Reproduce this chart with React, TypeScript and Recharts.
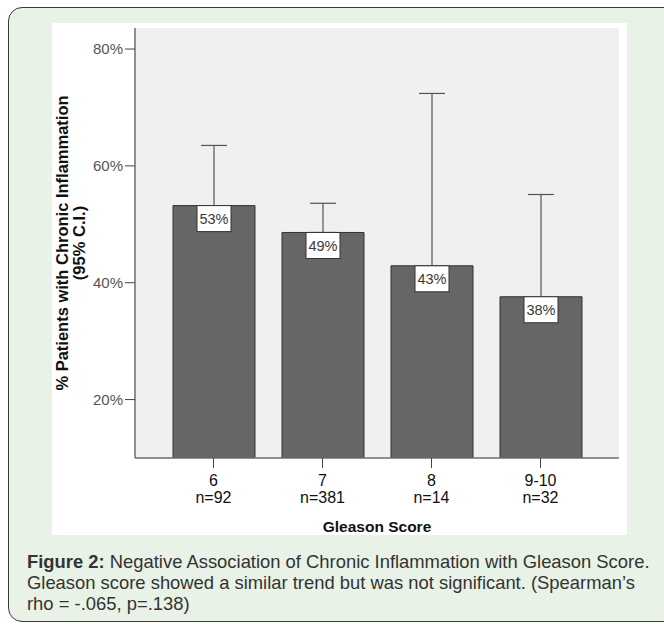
import React from "react";
import { BarChart, Bar, XAxis, YAxis, CartesianGrid, ErrorBar, LabelList } from "recharts";

// Gleason score groups and their sample sizes
const categories = ["6", "7", "8", "9-10"];
const sampleSizes = ["n=92", "n=381", "n=14", "n=32"];
// % patients with chronic inflammation, and upper bound of the 95% C.I.
const pctInflamed = [53.2, 48.6, 42.9, 37.6];
const ciUpper = [63.5, 53.6, 72.4, 55.1];
const yTicks = [20, 40, 60, 80];

const data = categories.map((c, i) => ({
  score: c,
  pct: pctInflamed[i],
  // only the upper whisker is visible above the bar
  err: [0, ciUpper[i] - pctInflamed[i]],
}));

const FONT = "'Liberation Sans', Arial, sans-serif";
const BORDER = "#6e6e6e";

const ScoreTick = (props: any) => {
  const { x, y, payload } = props;
  const idx = categories.indexOf(payload.value);
  return (
    <g fontFamily={FONT} fontSize={16} fill="#111">
      <text x={x} y={y + 16} textAnchor="middle">
        {payload.value}
      </text>
      <text x={x} y={y + 33} textAnchor="middle">
        {sampleSizes[idx]}
      </text>
    </g>
  );
};

const ValueBox = (props: any) => {
  const { x, y, width, value } = props;
  const cx = x + width / 2;
  return (
    <g>
      <rect x={cx - 17} y={y} width={34} height={26} fill="#fff" stroke="#333" strokeWidth={1} />
      <text x={cx} y={y + 18.5} textAnchor="middle" fontFamily={FONT} fontSize={14.5} fill="#3a3a3a">
        {Math.round(value)}%
      </text>
    </g>
  );
};

const YTitle = (props: any) => {
  const { viewBox } = props;
  const cy = viewBox.y + viewBox.height / 2;
  const x1 = viewBox.x + 16;
  const x2 = viewBox.x + 33;
  return (
    <g fontFamily={FONT} fontSize={16.5} fontWeight="bold" fill="#111">
      <text x={x1} y={cy} textAnchor="middle" transform={`rotate(-90 ${x1} ${cy})`}>
        % Patients with Chronic Inflammation
      </text>
      <text x={x2} y={cy} textAnchor="middle" transform={`rotate(-90 ${x2} ${cy})`}>
        (95% C.I.)
      </text>
    </g>
  );
};

const XTitle = (props: any) => {
  const { viewBox } = props;
  return (
    <text
      x={viewBox.x + viewBox.width / 2}
      y={viewBox.y + 74}
      textAnchor="middle"
      fontFamily={FONT}
      fontSize={15.5}
      fontWeight="bold"
      fill="#111"
    >
      Gleason Score
    </text>
  );
};

export default function App() {
  return (
    <div style={{ position: "absolute", left: 0, top: 0, width: 664, height: 624, overflow: "hidden", background: "#fff" }}>
      <div
        style={{
          position: "absolute",
          left: 8,
          top: 7,
          width: 720,
          height: 613,
          border: "1.5px solid #3a3a3a",
          borderRadius: 14,
          background: "#e8f2e6",
        }}
      />
      <div style={{ position: "absolute", left: 52, top: 23, width: 575, height: 512, background: "#fff" }}>
        <BarChart width={575} height={512} data={data} margin={{ top: 5, right: 8, left: 0, bottom: 0 }}>
          <CartesianGrid fill="#f0f0f0" horizontal={false} vertical={false} />
          <XAxis
            dataKey="score"
            height={77}
            padding={{ left: 24, right: 24 }}
            tickSize={10}
            tickMargin={2}
            tickLine={{ stroke: "#444" }}
            axisLine={{ stroke: BORDER, strokeWidth: 1.5 }}
            tick={<ScoreTick />}
            label={{ content: <XTitle /> }}
          />
          <XAxis
            xAxisId="top"
            orientation="top"
            dataKey="score"
            height={0}
            tick={false}
            tickLine={false}
            axisLine={{ stroke: BORDER, strokeWidth: 1.5 }}
          />
          <YAxis
            width={83}
            domain={[10, 83.6]}
            allowDataOverflow
            ticks={yTicks}
            tickFormatter={(v: number) => `${v}%`}
            tickSize={10}
            tickMargin={2}
            tickLine={{ stroke: "#444" }}
            axisLine={{ stroke: BORDER, strokeWidth: 1.5 }}
            tick={{ fill: "#555", fontSize: 15, fontFamily: FONT }}
            label={{ content: <YTitle /> }}
          />
          <YAxis
            yAxisId="right"
            orientation="right"
            width={0}
            domain={[10, 83.6]}
            tick={false}
            tickLine={false}
            axisLine={{ stroke: BORDER, strokeWidth: 1.5 }}
          />
          <Bar dataKey="pct" fill="#666666" stroke="#333" strokeWidth={1} barSize={82} isAnimationActive={false}>
            <ErrorBar dataKey="err" width={13} stroke="#555" strokeWidth={1.2} direction="y" />
            <LabelList dataKey="pct" content={<ValueBox />} />
          </Bar>
        </BarChart>
      </div>
      <div
        style={{
          position: "absolute",
          left: 27,
          top: 551,
          fontFamily: FONT,
          fontSize: 18.4,
          lineHeight: "21px",
          color: "#333",
          whiteSpace: "nowrap",
        }}
      >
        <b>Figure 2:</b> Negative Association of Chronic Inflammation with Gleason Score.
        <br />
        Gleason score showed a similar trend but was not significant. (Spearman’s
        <br />
        rho = -.065, p=.138)
      </div>
    </div>
  );
}
